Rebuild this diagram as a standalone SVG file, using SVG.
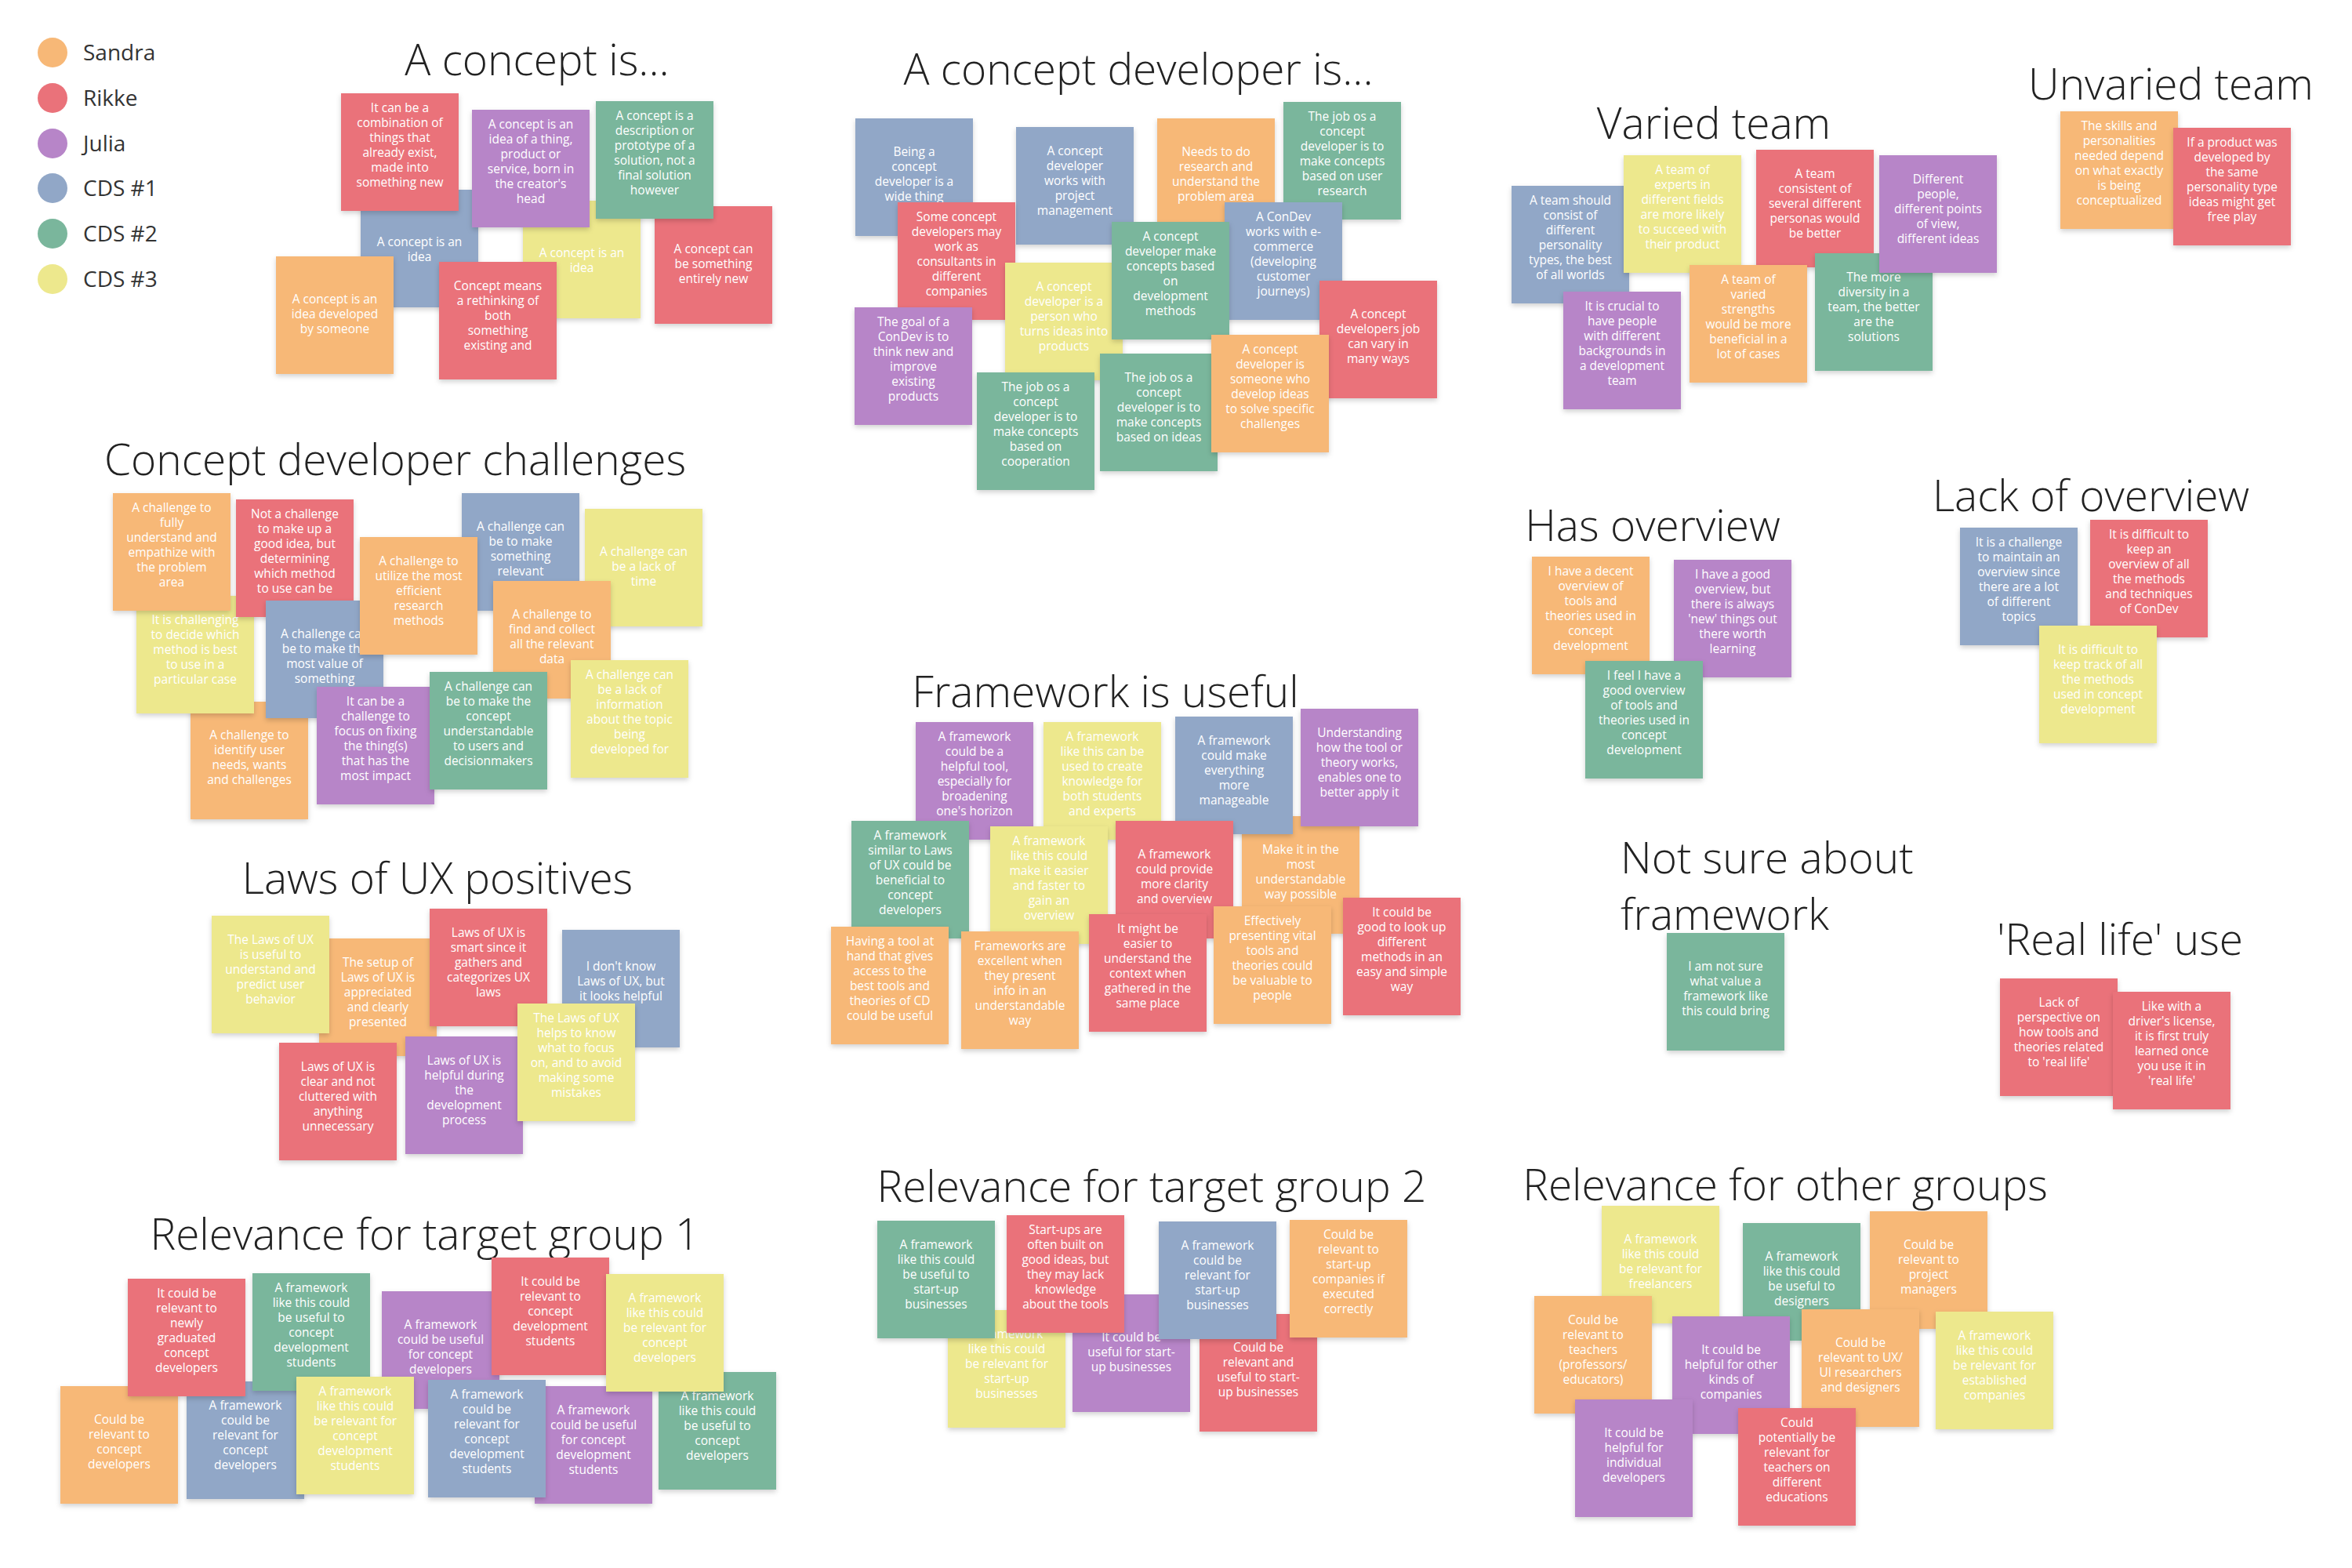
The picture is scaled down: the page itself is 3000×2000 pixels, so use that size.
<svg xmlns="http://www.w3.org/2000/svg" width="3000" height="2000" viewBox="0 0 3000 2000">
<defs>
<filter id="sh" x="-10%" y="-10%" width="130%" height="130%"><feDropShadow dx="0" dy="3" stdDeviation="3" flood-color="#000" flood-opacity="0.18"/></filter>
<style>
.n rect{width:150px;height:150px;filter:url(#sh)}
.o rect{fill:#F7B877}.r rect{fill:#EA727A}.p rect{fill:#B785C8}.b rect{fill:#91A7C7}.g rect{fill:#7AB69C}.y rect{fill:#EDE88D}
.n text{font-family:"Open Sans","Liberation Sans",sans-serif;font-size:15.5px;fill:#fff;text-anchor:middle}
.ti{font-family:"Open Sans","Liberation Sans",sans-serif;font-size:55px;font-weight:300;fill:#222;text-anchor:middle}
.lg{font-family:"Open Sans","Liberation Sans",sans-serif;font-size:28px;fill:#333}
</style>
</defs>
<rect width="3000" height="2000" fill="#fff"/>
<g id="legend">
<circle cx="67" cy="67" r="19" fill="#F7B877"/><text class="lg" x="106" y="77">Sandra</text>
<circle cx="67" cy="125" r="19" fill="#EA727A"/><text class="lg" x="106" y="135">Rikke</text>
<circle cx="67" cy="183" r="19" fill="#B785C8"/><text class="lg" x="106" y="193">Julia</text>
<circle cx="67" cy="240" r="19" fill="#91A7C7"/><text class="lg" x="106" y="250">CDS #1</text>
<circle cx="67" cy="298" r="19" fill="#7AB69C"/><text class="lg" x="106" y="308">CDS #2</text>
<circle cx="67" cy="356" r="19" fill="#EDE88D"/><text class="lg" x="106" y="366">CDS #3</text>
</g>
<g id="titles">
<text class="ti" x="685" y="96">A concept is...</text>
<text class="ti" x="1452" y="108">A concept developer is...</text>
<text class="ti" x="2186" y="177">Varied team</text>
<text class="ti" x="2769" y="127">Unvaried team</text>
<text class="ti" x="504" y="606">Concept developer challenges</text>
<text class="ti" x="2108" y="690">Has overview</text>
<text class="ti" x="2667" y="652">Lack of overview</text>
<text class="ti" x="1410" y="902">Framework is useful</text>
<text class="ti" x="558" y="1140">Laws of UX positives</text>
<text class="ti" x="2067" y="1114" style="text-anchor:start">Not sure about</text>
<text class="ti" x="2067" y="1186" style="text-anchor:start">framework</text>
<text class="ti" x="2704" y="1218">'Real life' use</text>
<text class="ti" x="542" y="1594">Relevance for target group 1</text>
<text class="ti" x="1469" y="1533">Relevance for target group 2</text>
<text class="ti" x="2277" y="1531">Relevance for other groups</text>
</g>
<g id="connectors"/>
<g id="g1">
<g id="a1" class="n b" transform="translate(460,242)"><rect/><text x="75" y="71.5"><tspan x="75">A concept is an</tspan><tspan x="75" dy="19">idea</tspan></text></g>
<g id="a2" class="n y" transform="translate(667,256)"><rect/><text x="75" y="71.5"><tspan x="75">A concept is an</tspan><tspan x="75" dy="19">idea</tspan></text></g>
<g id="a3" class="n r" transform="translate(435,119)"><rect/><text x="75" y="23.5"><tspan x="75">It can be a</tspan><tspan x="75" dy="19">combination of</tspan><tspan x="75" dy="19">things that</tspan><tspan x="75" dy="19">already exist,</tspan><tspan x="75" dy="19">made into</tspan><tspan x="75" dy="19">something new</tspan></text></g>
<g id="a4" class="n p" transform="translate(602,140)"><rect/><text x="75" y="23.5"><tspan x="75">A concept is an</tspan><tspan x="75" dy="19">idea of a thing,</tspan><tspan x="75" dy="19">product or</tspan><tspan x="75" dy="19">service, born in</tspan><tspan x="75" dy="19">the creator's</tspan><tspan x="75" dy="19">head</tspan></text></g>
<g id="a5" class="n r" transform="translate(835,263)"><rect/><text x="75" y="59.5"><tspan x="75">A concept can</tspan><tspan x="75" dy="19">be something</tspan><tspan x="75" dy="19">entirely new</tspan></text></g>
<g id="a6" class="n g" transform="translate(760,129)"><rect/><text x="75" y="23.5"><tspan x="75">A concept is a</tspan><tspan x="75" dy="19">description or</tspan><tspan x="75" dy="19">prototype of a</tspan><tspan x="75" dy="19">solution, not a</tspan><tspan x="75" dy="19">final solution</tspan><tspan x="75" dy="19">however</tspan></text></g>
<g id="a7" class="n o" transform="translate(352,327)"><rect/><text x="75" y="59.5"><tspan x="75">A concept is an</tspan><tspan x="75" dy="19">idea developed</tspan><tspan x="75" dy="19">by someone</tspan></text></g>
<g id="a8" class="n r" transform="translate(560,334)"><rect/><text x="75" y="35.5"><tspan x="75">Concept means</tspan><tspan x="75" dy="19">a rethinking of</tspan><tspan x="75" dy="19">both</tspan><tspan x="75" dy="19">something</tspan><tspan x="75" dy="19">existing and</tspan></text></g>
</g>
<g id="g2">
<g id="b1" class="n b" transform="translate(1091,151)"><rect/><text x="75" y="47.5"><tspan x="75">Being a</tspan><tspan x="75" dy="19">concept</tspan><tspan x="75" dy="19">developer is a</tspan><tspan x="75" dy="19">wide thing</tspan></text></g>
<g id="b2" class="n b" transform="translate(1296,162)"><rect/><text x="75" y="35.5"><tspan x="75">A concept</tspan><tspan x="75" dy="19">developer</tspan><tspan x="75" dy="19">works with</tspan><tspan x="75" dy="19">project</tspan><tspan x="75" dy="19">management</tspan></text></g>
<g id="b3" class="n o" transform="translate(1476,151)"><rect/><text x="75" y="47.5"><tspan x="75">Needs to do</tspan><tspan x="75" dy="19">research and</tspan><tspan x="75" dy="19">understand the</tspan><tspan x="75" dy="19">problem area</tspan></text></g>
<g id="b4" class="n g" transform="translate(1637,130)"><rect/><text x="75" y="23.5"><tspan x="75">The job os a</tspan><tspan x="75" dy="19">concept</tspan><tspan x="75" dy="19">developer is to</tspan><tspan x="75" dy="19">make concepts</tspan><tspan x="75" dy="19">based on user</tspan><tspan x="75" dy="19">research</tspan></text></g>
<g id="b5" class="n r" transform="translate(1145,258)"><rect/><text x="75" y="23.5"><tspan x="75">Some concept</tspan><tspan x="75" dy="19">developers may</tspan><tspan x="75" dy="19">work as</tspan><tspan x="75" dy="19">consultants in</tspan><tspan x="75" dy="19">different</tspan><tspan x="75" dy="19">companies</tspan></text></g>
<g id="b6" class="n y" transform="translate(1282,335)"><rect/><text x="75" y="35.5"><tspan x="75">A concept</tspan><tspan x="75" dy="19">developer is a</tspan><tspan x="75" dy="19">person who</tspan><tspan x="75" dy="19">turns ideas into</tspan><tspan x="75" dy="19">products</tspan></text></g>
<g id="b7" class="n b" transform="translate(1562,258)"><rect/><text x="75" y="23.5"><tspan x="75">A ConDev</tspan><tspan x="75" dy="19">works with e-</tspan><tspan x="75" dy="19">commerce</tspan><tspan x="75" dy="19">(developing</tspan><tspan x="75" dy="19">customer</tspan><tspan x="75" dy="19">journeys)</tspan></text></g>
<g id="b8" class="n g" transform="translate(1418,283)"><rect/><text x="75" y="23.5"><tspan x="75">A concept</tspan><tspan x="75" dy="19">developer make</tspan><tspan x="75" dy="19">concepts based</tspan><tspan x="75" dy="19">on</tspan><tspan x="75" dy="19">development</tspan><tspan x="75" dy="19">methods</tspan></text></g>
<g id="b9" class="n r" transform="translate(1683,358)"><rect/><text x="75" y="47.5"><tspan x="75">A concept</tspan><tspan x="75" dy="19">developers job</tspan><tspan x="75" dy="19">can vary in</tspan><tspan x="75" dy="19">many ways</tspan></text></g>
<g id="b10" class="n p" transform="translate(1090,392)"><rect/><text x="75" y="23.5"><tspan x="75">The goal of a</tspan><tspan x="75" dy="19">ConDev is to</tspan><tspan x="75" dy="19">think new and</tspan><tspan x="75" dy="19">improve</tspan><tspan x="75" dy="19">existing</tspan><tspan x="75" dy="19">products</tspan></text></g>
<g id="b11" class="n g" transform="translate(1246,475)"><rect/><text x="75" y="23.5"><tspan x="75">The job os a</tspan><tspan x="75" dy="19">concept</tspan><tspan x="75" dy="19">developer is to</tspan><tspan x="75" dy="19">make concepts</tspan><tspan x="75" dy="19">based on</tspan><tspan x="75" dy="19">cooperation</tspan></text></g>
<g id="b12" class="n g" transform="translate(1403,451)"><rect/><text x="75" y="35.5"><tspan x="75">The job os a</tspan><tspan x="75" dy="19">concept</tspan><tspan x="75" dy="19">developer is to</tspan><tspan x="75" dy="19">make concepts</tspan><tspan x="75" dy="19">based on ideas</tspan></text></g>
<g id="b13" class="n o" transform="translate(1545,427)"><rect/><text x="75" y="23.5"><tspan x="75">A concept</tspan><tspan x="75" dy="19">developer is</tspan><tspan x="75" dy="19">someone who</tspan><tspan x="75" dy="19">develop ideas</tspan><tspan x="75" dy="19">to solve specific</tspan><tspan x="75" dy="19">challenges</tspan></text></g>
</g>
<g id="g3">
<g id="c1" class="n b" transform="translate(1928,237)"><rect/><text x="75" y="23.5"><tspan x="75">A team should</tspan><tspan x="75" dy="19">consist of</tspan><tspan x="75" dy="19">different</tspan><tspan x="75" dy="19">personality</tspan><tspan x="75" dy="19">types, the best</tspan><tspan x="75" dy="19">of all worlds</tspan></text></g>
<g id="c2" class="n y" transform="translate(2071,198)"><rect/><text x="75" y="23.5"><tspan x="75">A team of</tspan><tspan x="75" dy="19">experts in</tspan><tspan x="75" dy="19">different fields</tspan><tspan x="75" dy="19">are more likely</tspan><tspan x="75" dy="19">to succeed with</tspan><tspan x="75" dy="19">their product</tspan></text></g>
<g id="c3" class="n r" transform="translate(2240,191)"><rect/><text x="75" y="35.5"><tspan x="75">A team</tspan><tspan x="75" dy="19">consistent of</tspan><tspan x="75" dy="19">several different</tspan><tspan x="75" dy="19">personas would</tspan><tspan x="75" dy="19">be better</tspan></text></g>
<g id="c4" class="n g" transform="translate(2315,323)"><rect/><text x="75" y="35.5"><tspan x="75">The more</tspan><tspan x="75" dy="19">diversity in a</tspan><tspan x="75" dy="19">team, the better</tspan><tspan x="75" dy="19">are the</tspan><tspan x="75" dy="19">solutions</tspan></text></g>
<g id="c5" class="n p" transform="translate(2397,198)"><rect/><text x="75" y="35.5"><tspan x="75">Different</tspan><tspan x="75" dy="19">people,</tspan><tspan x="75" dy="19">different points</tspan><tspan x="75" dy="19">of view,</tspan><tspan x="75" dy="19">different ideas</tspan></text></g>
<g id="c6" class="n p" transform="translate(1994,372)"><rect/><text x="75" y="23.5"><tspan x="75">It is crucial to</tspan><tspan x="75" dy="19">have people</tspan><tspan x="75" dy="19">with different</tspan><tspan x="75" dy="19">backgrounds in</tspan><tspan x="75" dy="19">a development</tspan><tspan x="75" dy="19">team</tspan></text></g>
<g id="c7" class="n o" transform="translate(2155,338)"><rect/><text x="75" y="23.5"><tspan x="75">A team of</tspan><tspan x="75" dy="19">varied</tspan><tspan x="75" dy="19">strengths</tspan><tspan x="75" dy="19">would be more</tspan><tspan x="75" dy="19">beneficial in a</tspan><tspan x="75" dy="19">lot of cases</tspan></text></g>
<g id="c8" class="n o" transform="translate(2628,142)"><rect/><text x="75" y="23.5"><tspan x="75">The skills and</tspan><tspan x="75" dy="19">personalities</tspan><tspan x="75" dy="19">needed depend</tspan><tspan x="75" dy="19">on what exactly</tspan><tspan x="75" dy="19">is being</tspan><tspan x="75" dy="19">conceptualized</tspan></text></g>
<g id="c9" class="n r" transform="translate(2772,163)"><rect/><text x="75" y="23.5"><tspan x="75">If a product was</tspan><tspan x="75" dy="19">developed by</tspan><tspan x="75" dy="19">the same</tspan><tspan x="75" dy="19">personality type</tspan><tspan x="75" dy="19">ideas might get</tspan><tspan x="75" dy="19">free play</tspan></text></g>
</g>
<g id="g4">
<g id="d1" class="n o" transform="translate(243,895)"><rect/><text x="75" y="47.5"><tspan x="75">A challenge to</tspan><tspan x="75" dy="19">identify user</tspan><tspan x="75" dy="19">needs, wants</tspan><tspan x="75" dy="19">and challenges</tspan></text></g>
<g id="d2" class="n y" transform="translate(174,760)"><rect/><text x="75" y="35.5"><tspan x="75">It is challenging</tspan><tspan x="75" dy="19">to decide which</tspan><tspan x="75" dy="19">method is best</tspan><tspan x="75" dy="19">to use in a</tspan><tspan x="75" dy="19">particular case</tspan></text></g>
<g id="d3" class="n o" transform="translate(144,629)"><rect/><text x="75" y="23.5"><tspan x="75">A challenge to</tspan><tspan x="75" dy="19">fully</tspan><tspan x="75" dy="19">understand and</tspan><tspan x="75" dy="19">empathize with</tspan><tspan x="75" dy="19">the problem</tspan><tspan x="75" dy="19">area</tspan></text></g>
<g id="d4" class="n r" transform="translate(301,637)"><rect/><text x="75" y="23.5"><tspan x="75">Not a challenge</tspan><tspan x="75" dy="19">to make up a</tspan><tspan x="75" dy="19">good idea, but</tspan><tspan x="75" dy="19">determining</tspan><tspan x="75" dy="19">which method</tspan><tspan x="75" dy="19">to use can be</tspan></text></g>
<g id="d5" class="n b" transform="translate(589,629)"><rect/><text x="75" y="47.5"><tspan x="75">A challenge can</tspan><tspan x="75" dy="19">be to make</tspan><tspan x="75" dy="19">something</tspan><tspan x="75" dy="19">relevant</tspan></text></g>
<g id="d6" class="n b" transform="translate(339,766)"><rect/><text x="75" y="47.5"><tspan x="75">A challenge can</tspan><tspan x="75" dy="19">be to make the</tspan><tspan x="75" dy="19">most value of</tspan><tspan x="75" dy="19">something</tspan></text></g>
<g id="d7" class="n o" transform="translate(459,685)"><rect/><text x="75" y="35.5"><tspan x="75">A challenge to</tspan><tspan x="75" dy="19">utilize the most</tspan><tspan x="75" dy="19">efficient</tspan><tspan x="75" dy="19">research</tspan><tspan x="75" dy="19">methods</tspan></text></g>
<g id="d8" class="n y" transform="translate(746,649)"><rect/><text x="75" y="59.5"><tspan x="75">A challenge can</tspan><tspan x="75" dy="19">be a lack of</tspan><tspan x="75" dy="19">time</tspan></text></g>
<g id="d9" class="n o" transform="translate(629,741)"><rect/><text x="75" y="47.5"><tspan x="75">A challenge to</tspan><tspan x="75" dy="19">find and collect</tspan><tspan x="75" dy="19">all the relevant</tspan><tspan x="75" dy="19">data</tspan></text></g>
<g id="d10" class="n p" transform="translate(404,876)"><rect/><text x="75" y="23.5"><tspan x="75">It can be a</tspan><tspan x="75" dy="19">challenge to</tspan><tspan x="75" dy="19">focus on fixing</tspan><tspan x="75" dy="19">the thing(s)</tspan><tspan x="75" dy="19">that has the</tspan><tspan x="75" dy="19">most impact</tspan></text></g>
<g id="d11" class="n g" transform="translate(548,857)"><rect/><text x="75" y="23.5"><tspan x="75">A challenge can</tspan><tspan x="75" dy="19">be to make the</tspan><tspan x="75" dy="19">concept</tspan><tspan x="75" dy="19">understandable</tspan><tspan x="75" dy="19">to users and</tspan><tspan x="75" dy="19">decisionmakers</tspan></text></g>
<g id="d12" class="n y" transform="translate(728,842)"><rect/><text x="75" y="23.5"><tspan x="75">A challenge can</tspan><tspan x="75" dy="19">be a lack of</tspan><tspan x="75" dy="19">information</tspan><tspan x="75" dy="19">about the topic</tspan><tspan x="75" dy="19">being</tspan><tspan x="75" dy="19">developed for</tspan></text></g>
</g>
<g id="g5">
<g id="e1" class="n o" transform="translate(407,1197)"><rect/><text x="75" y="35.5"><tspan x="75">The setup of</tspan><tspan x="75" dy="19">Laws of UX is</tspan><tspan x="75" dy="19">appreciated</tspan><tspan x="75" dy="19">and clearly</tspan><tspan x="75" dy="19">presented</tspan></text></g>
<g id="e2" class="n y" transform="translate(270,1168)"><rect/><text x="75" y="35.5"><tspan x="75">The Laws of UX</tspan><tspan x="75" dy="19">is useful to</tspan><tspan x="75" dy="19">understand and</tspan><tspan x="75" dy="19">predict user</tspan><tspan x="75" dy="19">behavior</tspan></text></g>
<g id="e3" class="n r" transform="translate(548,1159)"><rect/><text x="75" y="35.5"><tspan x="75">Laws of UX is</tspan><tspan x="75" dy="19">smart since it</tspan><tspan x="75" dy="19">gathers and</tspan><tspan x="75" dy="19">categorizes UX</tspan><tspan x="75" dy="19">laws</tspan></text></g>
<g id="e4" class="n b" transform="translate(717,1186)"><rect/><text x="75" y="52"><tspan x="75">I don't know</tspan><tspan x="75" dy="19">Laws of UX, but</tspan><tspan x="75" dy="19">it looks helpful</tspan></text></g>
<g id="e5" class="n r" transform="translate(356,1330)"><rect/><text x="75" y="35.5"><tspan x="75">Laws of UX is</tspan><tspan x="75" dy="19">clear and not</tspan><tspan x="75" dy="19">cluttered with</tspan><tspan x="75" dy="19">anything</tspan><tspan x="75" dy="19">unnecessary</tspan></text></g>
<g id="e6" class="n p" transform="translate(517,1322)"><rect/><text x="75" y="35.5"><tspan x="75">Laws of UX is</tspan><tspan x="75" dy="19">helpful during</tspan><tspan x="75" dy="19">the</tspan><tspan x="75" dy="19">development</tspan><tspan x="75" dy="19">process</tspan></text></g>
<g id="e7" class="n y" transform="translate(660,1280)"><rect/><text x="75" y="23.5"><tspan x="75">The Laws of UX</tspan><tspan x="75" dy="19">helps to know</tspan><tspan x="75" dy="19">what to focus</tspan><tspan x="75" dy="19">on, and to avoid</tspan><tspan x="75" dy="19">making some</tspan><tspan x="75" dy="19">mistakes</tspan></text></g>
</g>
<g id="g6">
<g id="f1" class="n p" transform="translate(1168,921)"><rect/><text x="75" y="23.5"><tspan x="75">A framework</tspan><tspan x="75" dy="19">could be a</tspan><tspan x="75" dy="19">helpful tool,</tspan><tspan x="75" dy="19">especially for</tspan><tspan x="75" dy="19">broadening</tspan><tspan x="75" dy="19">one's horizon</tspan></text></g>
<g id="f2" class="n y" transform="translate(1331,921)"><rect/><text x="75" y="23.5"><tspan x="75">A framework</tspan><tspan x="75" dy="19">like this can be</tspan><tspan x="75" dy="19">used to create</tspan><tspan x="75" dy="19">knowledge for</tspan><tspan x="75" dy="19">both students</tspan><tspan x="75" dy="19">and experts</tspan></text></g>
<g id="f3" class="n o" transform="translate(1584,1041)"><rect/><text x="75" y="47.5"><tspan x="75">Make it in the</tspan><tspan x="75" dy="19">most</tspan><tspan x="75" dy="19">understandable</tspan><tspan x="75" dy="19">way possible</tspan></text></g>
<g id="f4" class="n b" transform="translate(1499,914)"><rect/><text x="75" y="35.5"><tspan x="75">A framework</tspan><tspan x="75" dy="19">could make</tspan><tspan x="75" dy="19">everything</tspan><tspan x="75" dy="19">more</tspan><tspan x="75" dy="19">manageable</tspan></text></g>
<g id="f5" class="n p" transform="translate(1659,904)"><rect/><text x="75" y="35.5"><tspan x="75">Understanding</tspan><tspan x="75" dy="19">how the tool or</tspan><tspan x="75" dy="19">theory works,</tspan><tspan x="75" dy="19">enables one to</tspan><tspan x="75" dy="19">better apply it</tspan></text></g>
<g id="f6" class="n g" transform="translate(1086,1047)"><rect/><text x="75" y="23.5"><tspan x="75">A framework</tspan><tspan x="75" dy="19">similar to Laws</tspan><tspan x="75" dy="19">of UX could be</tspan><tspan x="75" dy="19">beneficial to</tspan><tspan x="75" dy="19">concept</tspan><tspan x="75" dy="19">developers</tspan></text></g>
<g id="f7" class="n y" transform="translate(1263,1054)"><rect/><text x="75" y="23.5"><tspan x="75">A framework</tspan><tspan x="75" dy="19">like this could</tspan><tspan x="75" dy="19">make it easier</tspan><tspan x="75" dy="19">and faster to</tspan><tspan x="75" dy="19">gain an</tspan><tspan x="75" dy="19">overview</tspan></text></g>
<g id="f8" class="n r" transform="translate(1423,1047)"><rect/><text x="75" y="47.5"><tspan x="75">A framework</tspan><tspan x="75" dy="19">could provide</tspan><tspan x="75" dy="19">more clarity</tspan><tspan x="75" dy="19">and overview</tspan></text></g>
<g id="f9" class="n o" transform="translate(1060,1182)"><rect/><text x="75" y="23.5"><tspan x="75">Having a tool at</tspan><tspan x="75" dy="19">hand that gives</tspan><tspan x="75" dy="19">access to the</tspan><tspan x="75" dy="19">best tools and</tspan><tspan x="75" dy="19">theories of CD</tspan><tspan x="75" dy="19">could be useful</tspan></text></g>
<g id="f10" class="n o" transform="translate(1226,1188)"><rect/><text x="75" y="23.5"><tspan x="75">Frameworks are</tspan><tspan x="75" dy="19">excellent when</tspan><tspan x="75" dy="19">they present</tspan><tspan x="75" dy="19">info in an</tspan><tspan x="75" dy="19">understandable</tspan><tspan x="75" dy="19">way</tspan></text></g>
<g id="f11" class="n r" transform="translate(1389,1166)"><rect/><text x="75" y="23.5"><tspan x="75">It might be</tspan><tspan x="75" dy="19">easier to</tspan><tspan x="75" dy="19">understand the</tspan><tspan x="75" dy="19">context when</tspan><tspan x="75" dy="19">gathered in the</tspan><tspan x="75" dy="19">same place</tspan></text></g>
<g id="f12" class="n o" transform="translate(1548,1156)"><rect/><text x="75" y="23.5"><tspan x="75">Effectively</tspan><tspan x="75" dy="19">presenting vital</tspan><tspan x="75" dy="19">tools and</tspan><tspan x="75" dy="19">theories could</tspan><tspan x="75" dy="19">be valuable to</tspan><tspan x="75" dy="19">people</tspan></text></g>
<g id="f13" class="n r" transform="translate(1713,1145)"><rect/><text x="75" y="23.5"><tspan x="75">It could be</tspan><tspan x="75" dy="19">good to look up</tspan><tspan x="75" dy="19">different</tspan><tspan x="75" dy="19">methods in an</tspan><tspan x="75" dy="19">easy and simple</tspan><tspan x="75" dy="19">way</tspan></text></g>
</g>
<g id="g7">
<g id="h1" class="n o" transform="translate(1954,710)"><rect/><text x="75" y="23.5"><tspan x="75">I have a decent</tspan><tspan x="75" dy="19">overview of</tspan><tspan x="75" dy="19">tools and</tspan><tspan x="75" dy="19">theories used in</tspan><tspan x="75" dy="19">concept</tspan><tspan x="75" dy="19">development</tspan></text></g>
<g id="h2" class="n p" transform="translate(2135,714)"><rect/><text x="75" y="23.5"><tspan x="75">I have a good</tspan><tspan x="75" dy="19">overview, but</tspan><tspan x="75" dy="19">there is always</tspan><tspan x="75" dy="19">'new' things out</tspan><tspan x="75" dy="19">there worth</tspan><tspan x="75" dy="19">learning</tspan></text></g>
<g id="h3" class="n g" transform="translate(2022,843)"><rect/><text x="75" y="23.5"><tspan x="75">I feel I have a</tspan><tspan x="75" dy="19">good overview</tspan><tspan x="75" dy="19">of tools and</tspan><tspan x="75" dy="19">theories used in</tspan><tspan x="75" dy="19">concept</tspan><tspan x="75" dy="19">development</tspan></text></g>
<g id="h4" class="n b" transform="translate(2500,673)"><rect/><text x="75" y="23.5"><tspan x="75">It is a challenge</tspan><tspan x="75" dy="19">to maintain an</tspan><tspan x="75" dy="19">overview since</tspan><tspan x="75" dy="19">there are a lot</tspan><tspan x="75" dy="19">of different</tspan><tspan x="75" dy="19">topics</tspan></text></g>
<g id="h5" class="n r" transform="translate(2666,663)"><rect/><text x="75" y="23.5"><tspan x="75">It is difficult to</tspan><tspan x="75" dy="19">keep an</tspan><tspan x="75" dy="19">overview of all</tspan><tspan x="75" dy="19">the methods</tspan><tspan x="75" dy="19">and techniques</tspan><tspan x="75" dy="19">of ConDev</tspan></text></g>
<g id="h6" class="n y" transform="translate(2601,798)"><rect/><text x="75" y="35.5"><tspan x="75">It is difficult to</tspan><tspan x="75" dy="19">keep track of all</tspan><tspan x="75" dy="19">the methods</tspan><tspan x="75" dy="19">used in concept</tspan><tspan x="75" dy="19">development</tspan></text></g>
</g>
<g id="g8">
<g id="i1" class="n g" transform="translate(2126,1190)"><rect/><text x="75" y="47.5"><tspan x="75">I am not sure</tspan><tspan x="75" dy="19">what value a</tspan><tspan x="75" dy="19">framework like</tspan><tspan x="75" dy="19">this could bring</tspan></text></g>
<g id="i2" class="n r" transform="translate(2551,1248)"><rect/><text x="75" y="35.5"><tspan x="75">Lack of</tspan><tspan x="75" dy="19">perspective on</tspan><tspan x="75" dy="19">how tools and</tspan><tspan x="75" dy="19">theories related</tspan><tspan x="75" dy="19">to 'real life'</tspan></text></g>
<g id="i3" class="n r" transform="translate(2695,1265)"><rect/><text x="75" y="23.5"><tspan x="75">Like with a</tspan><tspan x="75" dy="19">driver's license,</tspan><tspan x="75" dy="19">it is first truly</tspan><tspan x="75" dy="19">learned once</tspan><tspan x="75" dy="19">you use it in</tspan><tspan x="75" dy="19">'real life'</tspan></text></g>
</g>
<g id="g9">
<g id="j1" class="n b" transform="translate(238,1762)"><rect/><text x="75" y="35.5"><tspan x="75">A framework</tspan><tspan x="75" dy="19">could be</tspan><tspan x="75" dy="19">relevant for</tspan><tspan x="75" dy="19">concept</tspan><tspan x="75" dy="19">developers</tspan></text></g>
<g id="j2" class="n o" transform="translate(77,1768)"><rect/><text x="75" y="47.5"><tspan x="75">Could be</tspan><tspan x="75" dy="19">relevant to</tspan><tspan x="75" dy="19">concept</tspan><tspan x="75" dy="19">developers</tspan></text></g>
<g id="j3" class="n r" transform="translate(163,1631)"><rect/><text x="75" y="23.5"><tspan x="75">It could be</tspan><tspan x="75" dy="19">relevant to</tspan><tspan x="75" dy="19">newly</tspan><tspan x="75" dy="19">graduated</tspan><tspan x="75" dy="19">concept</tspan><tspan x="75" dy="19">developers</tspan></text></g>
<g id="j4" class="n g" transform="translate(322,1624)"><rect/><text x="75" y="23.5"><tspan x="75">A framework</tspan><tspan x="75" dy="19">like this could</tspan><tspan x="75" dy="19">be useful to</tspan><tspan x="75" dy="19">concept</tspan><tspan x="75" dy="19">development</tspan><tspan x="75" dy="19">students</tspan></text></g>
<g id="j5" class="n p" transform="translate(487,1647)"><rect/><text x="75" y="47.5"><tspan x="75">A framework</tspan><tspan x="75" dy="19">could be useful</tspan><tspan x="75" dy="19">for concept</tspan><tspan x="75" dy="19">developers</tspan></text></g>
<g id="j6" class="n r" transform="translate(627,1604)"><rect/><text x="75" y="35.5"><tspan x="75">It could be</tspan><tspan x="75" dy="19">relevant to</tspan><tspan x="75" dy="19">concept</tspan><tspan x="75" dy="19">development</tspan><tspan x="75" dy="19">students</tspan></text></g>
<g id="j7" class="n p" transform="translate(682,1768)"><rect/><text x="75" y="35.5"><tspan x="75">A framework</tspan><tspan x="75" dy="19">could be useful</tspan><tspan x="75" dy="19">for concept</tspan><tspan x="75" dy="19">development</tspan><tspan x="75" dy="19">students</tspan></text></g>
<g id="j8" class="n g" transform="translate(840,1750)"><rect/><text x="75" y="35.5"><tspan x="75">A framework</tspan><tspan x="75" dy="19">like this could</tspan><tspan x="75" dy="19">be useful to</tspan><tspan x="75" dy="19">concept</tspan><tspan x="75" dy="19">developers</tspan></text></g>
<g id="j9" class="n y" transform="translate(773,1625)"><rect/><text x="75" y="35.5"><tspan x="75">A framework</tspan><tspan x="75" dy="19">like this could</tspan><tspan x="75" dy="19">be relevant for</tspan><tspan x="75" dy="19">concept</tspan><tspan x="75" dy="19">developers</tspan></text></g>
<g id="j10" class="n y" transform="translate(378,1756)"><rect/><text x="75" y="23.5"><tspan x="75">A framework</tspan><tspan x="75" dy="19">like this could</tspan><tspan x="75" dy="19">be relevant for</tspan><tspan x="75" dy="19">concept</tspan><tspan x="75" dy="19">development</tspan><tspan x="75" dy="19">students</tspan></text></g>
<g id="j11" class="n b" transform="translate(546,1760)"><rect/><text x="75" y="23.5"><tspan x="75">A framework</tspan><tspan x="75" dy="19">could be</tspan><tspan x="75" dy="19">relevant for</tspan><tspan x="75" dy="19">concept</tspan><tspan x="75" dy="19">development</tspan><tspan x="75" dy="19">students</tspan></text></g>
</g>
<g id="g10">
<g id="k1" class="n y" transform="translate(1209,1671)"><rect/><text x="75" y="35.5"><tspan x="75">A framework</tspan><tspan x="75" dy="19">like this could</tspan><tspan x="75" dy="19">be relevant for</tspan><tspan x="75" dy="19">start-up</tspan><tspan x="75" dy="19">businesses</tspan></text></g>
<g id="k2" class="n p" transform="translate(1368,1651)"><rect/><text x="75" y="59.5"><tspan x="75">It could be</tspan><tspan x="75" dy="19">useful for start-</tspan><tspan x="75" dy="19">up businesses</tspan></text></g>
<g id="k3" class="n r" transform="translate(1530,1676)"><rect/><text x="75" y="47.5"><tspan x="75">Could be</tspan><tspan x="75" dy="19">relevant and</tspan><tspan x="75" dy="19">useful to start-</tspan><tspan x="75" dy="19">up businesses</tspan></text></g>
<g id="k4" class="n g" transform="translate(1119,1557)"><rect/><text x="75" y="35.5"><tspan x="75">A framework</tspan><tspan x="75" dy="19">like this could</tspan><tspan x="75" dy="19">be useful to</tspan><tspan x="75" dy="19">start-up</tspan><tspan x="75" dy="19">businesses</tspan></text></g>
<g id="k5" class="n r" transform="translate(1284,1550)"><rect/><text x="75" y="23.5"><tspan x="75">Start-ups are</tspan><tspan x="75" dy="19">often built on</tspan><tspan x="75" dy="19">good ideas, but</tspan><tspan x="75" dy="19">they may lack</tspan><tspan x="75" dy="19">knowledge</tspan><tspan x="75" dy="19">about the tools</tspan></text></g>
<g id="k6" class="n b" transform="translate(1478,1558)"><rect/><text x="75" y="35.5"><tspan x="75">A framework</tspan><tspan x="75" dy="19">could be</tspan><tspan x="75" dy="19">relevant for</tspan><tspan x="75" dy="19">start-up</tspan><tspan x="75" dy="19">businesses</tspan></text></g>
<g id="k7" class="n o" transform="translate(1645,1556)"><rect/><text x="75" y="23.5"><tspan x="75">Could be</tspan><tspan x="75" dy="19">relevant to</tspan><tspan x="75" dy="19">start-up</tspan><tspan x="75" dy="19">companies if</tspan><tspan x="75" dy="19">executed</tspan><tspan x="75" dy="19">correctly</tspan></text></g>
</g>
<g id="g11">
<g id="m1" class="n y" transform="translate(2043,1538)"><rect/><text x="75" y="47.5"><tspan x="75">A framework</tspan><tspan x="75" dy="19">like this could</tspan><tspan x="75" dy="19">be relevant for</tspan><tspan x="75" dy="19">freelancers</tspan></text></g>
<g id="m2" class="n g" transform="translate(2223,1560)"><rect/><text x="75" y="47.5"><tspan x="75">A framework</tspan><tspan x="75" dy="19">like this could</tspan><tspan x="75" dy="19">be useful to</tspan><tspan x="75" dy="19">designers</tspan></text></g>
<g id="m3" class="n o" transform="translate(2385,1545)"><rect/><text x="75" y="47.5"><tspan x="75">Could be</tspan><tspan x="75" dy="19">relevant to</tspan><tspan x="75" dy="19">project</tspan><tspan x="75" dy="19">managers</tspan></text></g>
<g id="m4" class="n o" transform="translate(1957,1653)"><rect/><text x="75" y="35.5"><tspan x="75">Could be</tspan><tspan x="75" dy="19">relevant to</tspan><tspan x="75" dy="19">teachers</tspan><tspan x="75" dy="19">(professors/</tspan><tspan x="75" dy="19">educators)</tspan></text></g>
<g id="m5" class="n p" transform="translate(2133,1679)"><rect/><text x="75" y="47.5"><tspan x="75">It could be</tspan><tspan x="75" dy="19">helpful for other</tspan><tspan x="75" dy="19">kinds of</tspan><tspan x="75" dy="19">companies</tspan></text></g>
<g id="m6" class="n o" transform="translate(2298,1670)"><rect/><text x="75" y="47.5"><tspan x="75">Could be</tspan><tspan x="75" dy="19">relevant to UX/</tspan><tspan x="75" dy="19">UI researchers</tspan><tspan x="75" dy="19">and designers</tspan></text></g>
<g id="m7" class="n y" transform="translate(2469,1673)"><rect/><text x="75" y="35.5"><tspan x="75">A framework</tspan><tspan x="75" dy="19">like this could</tspan><tspan x="75" dy="19">be relevant for</tspan><tspan x="75" dy="19">established</tspan><tspan x="75" dy="19">companies</tspan></text></g>
<g id="m8" class="n p" transform="translate(2009,1785)"><rect/><text x="75" y="47.5"><tspan x="75">It could be</tspan><tspan x="75" dy="19">helpful for</tspan><tspan x="75" dy="19">individual</tspan><tspan x="75" dy="19">developers</tspan></text></g>
<g id="m9" class="n r" transform="translate(2217,1796)"><rect/><text x="75" y="23.5"><tspan x="75">Could</tspan><tspan x="75" dy="19">potentially be</tspan><tspan x="75" dy="19">relevant for</tspan><tspan x="75" dy="19">teachers on</tspan><tspan x="75" dy="19">different</tspan><tspan x="75" dy="19">educations</tspan></text></g>
</g>
</svg>
